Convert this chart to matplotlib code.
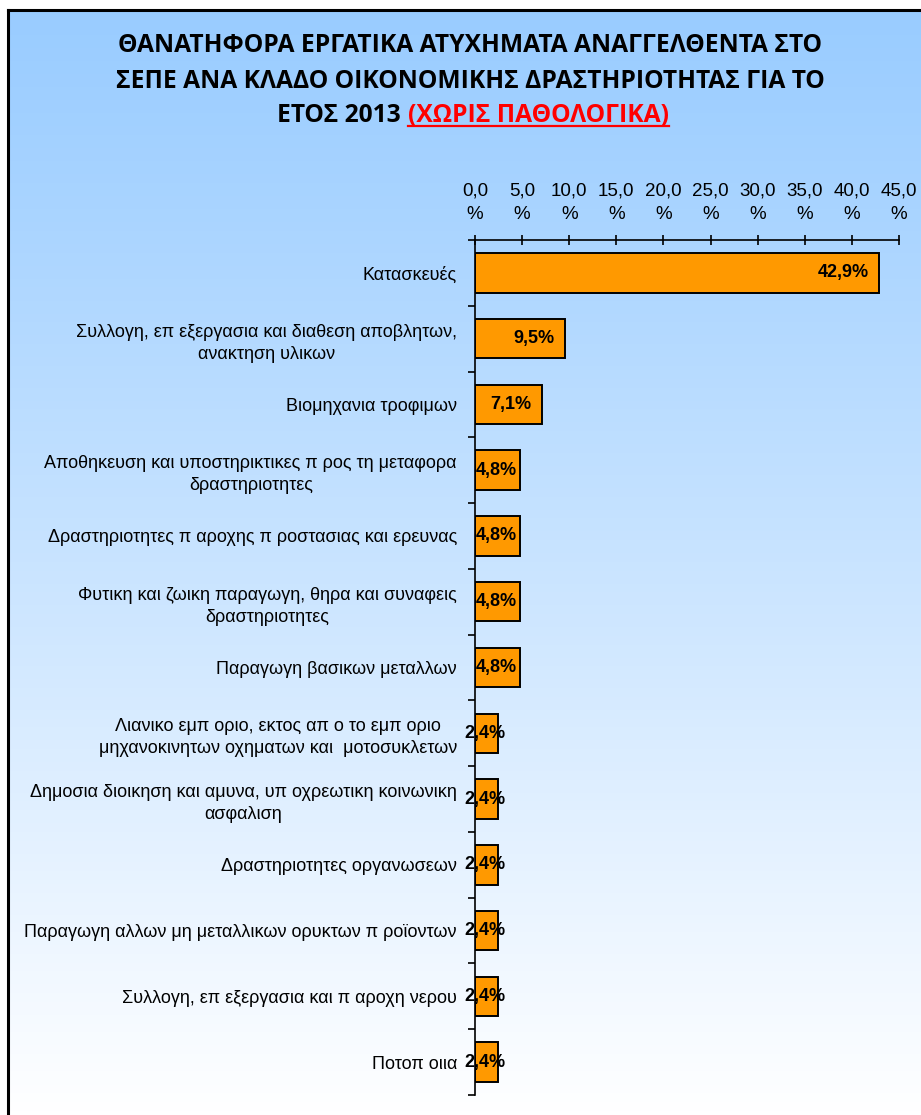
import numpy as np
import matplotlib.pyplot as plt

# categories, top to bottom
categories = [
    "Κατασκευές",
    "Συλλογη, επ εξεργασια και διαθεση αποβλητων,\nανακτηση υλικων",
    "Βιομηχανια τροφιμων",
    "Αποθηκευση και υποστηρικτικες π ρος τη μεταφορα\nδραστηριοτητες",
    "Δραστηριοτητες π αροχης π ροστασιας και ερευνας",
    "Φυτικη και ζωικη παραγωγη, θηρα και συναφεις\nδραστηριοτητες",
    "Παραγωγη βασικων μεταλλων",
    "Λιανικο εμπ οριο, εκτος απ ο το εμπ οριο\nμηχανοκινητων οχηματων και  μοτοσυκλετων",
    "Δημοσια διοικηση και αμυνα, υπ οχρεωτικη κοινωνικη\nασφαλιση",
    "Δραστηριοτητες οργανωσεων",
    "Παραγωγη αλλων μη μεταλλικων ορυκτων π ροϊοντων",
    "Συλλογη, επ εξεργασια και π αροχη νερου",
    "Ποτοπ οιια",
]
shares = [42.9, 9.5, 7.1, 4.8, 4.8, 4.8, 4.8, 2.4, 2.4, 2.4, 2.4, 2.4, 2.4]
x_ticks = [0, 5, 10, 15, 20, 25, 30, 35, 40, 45]

title_lines = ["ΘΑΝΑΤΗΦΟΡΑ ΕΡΓΑΤΙΚΑ ΑΤΥΧΗΜΑΤΑ ΑΝΑΓΓΕΛΘΕΝΤΑ ΣΤΟ",
               "ΣΕΠΕ ΑΝΑ ΚΛΑΔΟ ΟΙΚΟΝΟΜΙΚΗΣ ΔΡΑΣΤΗΡΙΟΤΗΤΑΣ ΓΙΑ ΤΟ"]
title_tail = ("ΕΤΟΣ 2013 ", "(ΧΩΡΙΣ ΠΑΘΟΛΟΓΙΚΑ)")

plt.rcParams["font.family"] = ["Liberation Sans", "DejaVu Sans"]

W, H = 921, 1115
fig = plt.figure(figsize=(W / 100, H / 100), dpi=100)

# gradient background inside the frame
bg = fig.add_axes([0, 0, 1, 1], zorder=-10)
grad = np.linspace(0, 1, 256).reshape(-1, 1)
top = np.array([153, 204, 255]) / 255
bot = np.array([255, 255, 255]) / 255
img = top + (bot - top) * grad[:, :, None] ** 1.1
bg.imshow(img, aspect="auto", extent=[0, 1, 0, 1], origin="upper")
bg.fill_between([0, 1], 1 - 10 / H, 1, color="white")
bg.fill_between([0, 8 / W], 0, 1, color="white")
bg.plot([8 / W, 8 / W], [0, 1 - 10 / H], color="black", lw=2.2)
bg.plot([8 / W, 1], [1 - 10 / H, 1 - 10 / H], color="black", lw=2.2)
bg.set_xlim(0, 1)
bg.set_ylim(0, 1)
bg.axis("off")

ax = fig.add_axes([475 / W, 1 - 1095 / H, 424 / W, 855 / H])
ax.patch.set_alpha(0)
y = np.arange(len(categories))
ax.barh(y, shares, height=0.6, color="#FF9900", edgecolor="black", linewidth=1.4)
ax.set_xlim(0, 45)
ax.set_ylim(len(categories) - 0.5, -0.5)

ax.xaxis.tick_top()
ax.set_xticks(x_ticks)
ax.set_xticklabels([f"{t:.1f}".replace(".", ",") + "\n%" for t in x_ticks],
                   fontsize=13.5, linespacing=1.45)
ax.tick_params(axis="x", direction="inout", length=7, width=1.2, pad=9)

ax.set_yticks(y)
ax.set_yticklabels(categories, fontsize=13, multialignment="center", linespacing=1.4)
ax.tick_params(axis="y", length=0, pad=13)
ax.set_yticks(np.arange(len(categories) + 1) - 0.5, minor=True)
ax.tick_params(axis="y", which="minor", length=5, width=1.2, direction="out")

for s in ["right", "bottom"]:
    ax.spines[s].set_visible(False)
ax.spines["left"].set_linewidth(1.2)
ax.spines["top"].set_linewidth(1.2)

for yi, v in zip(y, shares):
    txt = f"{v:.1f}%".replace(".", ",")
    if v >= 5:
        ax.text(v - 1.1, yi, txt, ha="right", va="center", fontsize=13, fontweight="bold")
    else:
        ax.text(v / 2 - 0.1, yi, txt, ha="center", va="center", fontsize=13, fontweight="bold")

# title
tfont = dict(fontsize=17.7, fontweight="bold", family=["Open Sans", "DejaVu Sans"])
for i, line in enumerate(title_lines):
    fig.text(470 / W, 1 - (46 + 35 * i) / H, line, ha="center", va="center", **tfont)

r = fig.canvas.get_renderer()
t1 = fig.text(0, 1 - 116 / H, title_tail[0], ha="left", va="center", **tfont)
t2 = fig.text(0, 1 - 116 / H, title_tail[1], ha="left", va="center", color="#FF0000", **tfont)
w1 = t1.get_window_extent(r).width
w2 = t2.get_window_extent(r).width
x0 = 473 - (w1 + w2) / 2
t1.set_x(x0 / W)
t2.set_x((x0 + w1) / W)
bb2 = t2.get_window_extent(r)
uy = (bb2.y0 + 2) / H
fig.add_artist(plt.Line2D([bb2.x0 / W, bb2.x1 / W], [uy, uy], color="#FF0000", lw=1.6))

fig.savefig("out.png", dpi=100)
